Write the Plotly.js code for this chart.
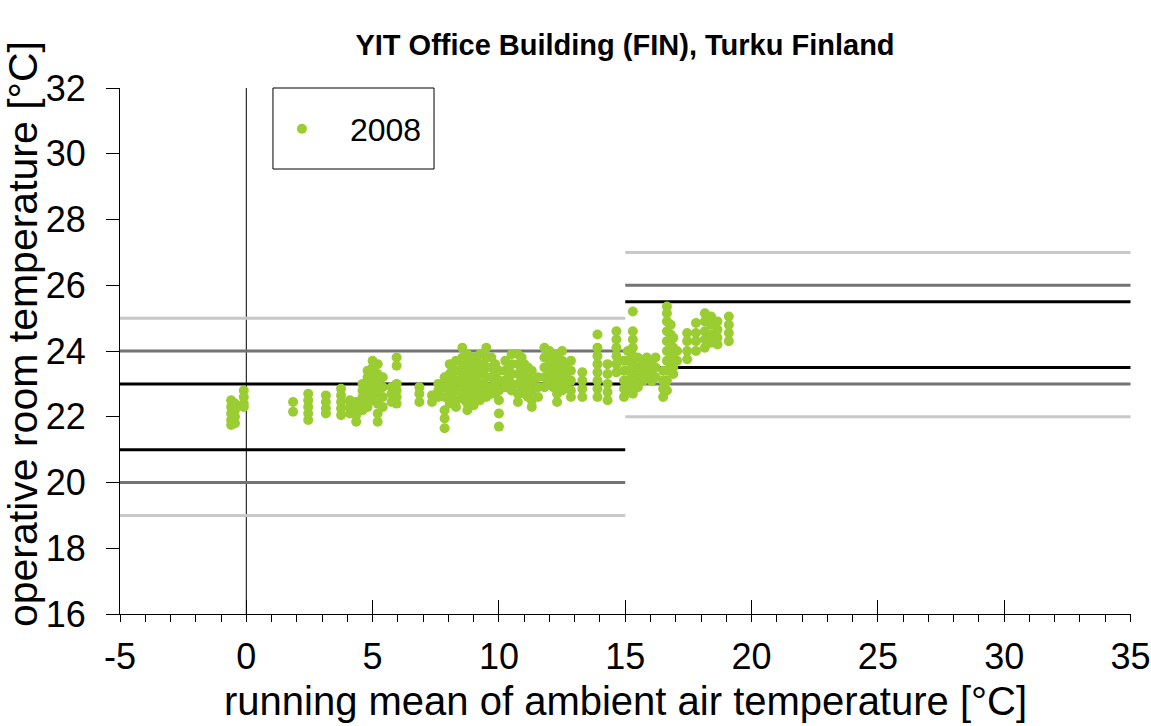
<!DOCTYPE html>
<html><head><meta charset="utf-8">
<script src="https://cdn.plot.ly/plotly-3.0.1.min.js"></script>
<style>html,body{margin:0;padding:0;background:#fff}</style>
</head><body><div id="chart" style="width:1151px;height:726px"></div>
<script>
const chartTitle = 'YIT Office Building (FIN), Turku Finland';
const xTitle = 'running mean of ambient air temperature [°C]';
const yTitle = 'operative room temperature [°C]';
const seriesName = '2008';

const xTickVals = [-5, 0, 5, 10, 15, 20, 25, 30, 35];
const xTickText = ['-5', '0', '5', '10', '15', '20', '25', '30', '35'];
const yTickVals = [16, 18, 20, 22, 24, 26, 28, 30, 32];

// running mean ambient temperature (x) for each vertical group of daily points
const clusterX = [-0.6, -0.45, -0.1, 1.85, 2.45, 3.15, 3.75, 4.1, 4.35, 4.6, 4.8, 5.0, 5.2, 5.4, 5.75, 5.95,
  6.85, 7.35, 7.6, 7.85, 8.05, 8.15, 8.3, 8.55, 8.65, 8.75, 9.0, 9.1, 9.25, 9.4, 9.5, 9.7, 9.85, 10.0, 10.25,
  10.4, 10.5, 10.75, 10.9, 11.0, 11.15, 11.3, 11.55, 11.8, 12.0, 12.15, 12.3, 12.5, 12.65, 12.85, 13.3, 13.9,
  14.3, 14.65, 14.95, 15.1, 15.3, 15.5, 15.7, 15.85, 16.05, 16.2, 16.5, 16.65, 16.8, 16.9, 17.05,
  17.45, 17.8, 18.15, 18.4, 18.65, 19.1];
// operative room temperatures observed in each group
const clusterY = [
  [22.5, 22.3, 22.1, 21.9, 21.75],
  [22.4, 22.2, 22.0, 21.8],
  [22.8, 22.6, 22.4, 22.3],
  [22.45, 22.15],
  [22.7, 22.5, 22.3, 22.1, 21.9],
  [22.65, 22.45, 22.25, 22.1],
  [22.85, 22.65, 22.45, 22.25, 22.05],
  [22.5, 22.3, 22.1],
  [22.45, 22.25, 22.05, 21.85],
  [23.0, 22.8, 22.6, 22.4, 22.2],
  [23.4, 23.2, 23.0, 22.8, 22.6, 22.3],
  [23.7, 23.5, 23.3, 23.1, 22.9, 22.7, 22.5],
  [23.6, 23.3, 23.0, 22.7, 22.4, 22.1, 21.85],
  [23.2, 22.9, 22.6, 22.3],
  [22.9, 22.7, 22.45],
  [23.8, 23.55, 23.0, 22.8, 22.6, 22.4],
  [22.9, 22.7, 22.45],
  [22.65, 22.45],
  [23.0, 22.8, 22.6],
  [23.2, 22.9, 22.6, 22.2, 21.95, 21.65],
  [23.6, 23.3, 23.0, 22.7, 22.4],
  [23.5, 23.2, 22.9, 22.6],
  [23.7, 23.4, 23.1, 22.8, 22.5, 22.3],
  [24.1, 23.8, 23.5, 23.2, 22.9, 22.6],
  [23.7, 23.4, 23.1, 22.8, 22.5],
  [23.9, 23.6, 23.3, 23.0, 22.7, 22.4, 22.2],
  [23.8, 23.5, 23.2, 22.9, 22.6, 22.35],
  [23.7, 23.4, 23.1, 22.8],
  [23.9, 23.6, 23.3, 23.0, 22.7, 22.5],
  [23.6, 23.3, 23.0, 22.7],
  [24.1, 23.8, 23.5, 23.2, 22.9, 22.6],
  [23.8, 23.5, 23.2, 22.9, 22.7],
  [23.6, 23.3, 23.0, 22.7],
  [23.4, 23.1, 22.8, 22.5, 22.1, 21.7],
  [23.7, 23.4, 23.1, 22.9],
  [23.5, 23.2, 22.9],
  [23.9, 23.6, 23.3, 23.0, 22.8],
  [23.9, 23.6, 23.3, 23.0, 22.7, 22.45],
  [23.8, 23.5, 23.2, 22.9],
  [23.6, 23.3, 23.0, 22.7],
  [23.5, 23.2, 22.9, 22.6],
  [23.4, 23.1, 22.8, 22.5, 22.3],
  [23.2, 22.9, 22.6],
  [24.1, 23.8, 23.5, 23.2, 22.9],
  [24.0, 23.7, 23.4, 23.1],
  [23.8, 23.5, 23.2, 22.9],
  [23.9, 23.6, 23.3, 23.0, 22.7, 22.45],
  [24.0, 23.7, 23.4, 23.1, 22.8],
  [23.6, 23.3, 23.0],
  [23.7, 23.4, 23.1, 22.8, 22.6],
  [23.35, 23.1, 22.85, 22.6],
  [24.5, 24.1, 23.85, 23.6, 23.35, 23.1, 22.85, 22.6],
  [23.6, 23.3, 23.0, 22.75, 22.5],
  [24.6, 24.35, 24.1, 23.85, 23.6, 23.35],
  [23.7, 23.4, 23.1, 22.85, 22.6],
  [24.0, 23.7, 23.4, 23.1, 22.8],
  [25.2, 24.6, 24.35, 24.1, 23.85, 23.6, 23.3, 23.0, 22.7],
  [23.8, 23.5, 23.2, 22.9],
  [23.7, 23.4, 23.1],
  [23.8, 23.5, 23.2],
  [23.7, 23.4, 23.1],
  [23.8, 23.5, 23.2],
  [23.4, 23.1, 22.85, 22.6],
  [25.35, 25.15, 24.9, 24.6, 24.3, 24.0, 23.7, 23.4, 23.1, 22.8],
  [24.8, 24.5, 24.2, 23.9, 23.6],
  [24.4, 24.1, 23.8, 23.5, 23.3],
  [24.0, 23.7],
  [24.55, 24.3, 24.0, 23.75],
  [24.85, 24.55, 24.3, 24.0],
  [25.15, 24.9, 24.6, 24.35, 24.1],
  [25.05, 24.8, 24.5, 24.25],
  [24.9, 24.65, 24.4, 24.2],
  [25.05, 24.8, 24.55, 24.3]
];

// comfort band limits: [winter part, summer part]
const bandXStart = [-5, 15];
const bandXEnd = [15, 35];
const catIUpper = [23, 25.5];
const catILower = [21, 23.5];
const catIIUpper = [24, 26];
const catIILower = [20, 23];
const catIIIUpper = [25, 27];
const catIIILower = [19, 22];

const xs = [], ys = [];
clusterX.forEach((x, i) => clusterY[i].forEach(y => { xs.push(x); ys.push(y); }));

const shapes = [];
function addBand(upper, lower, color) {
  for (let i = 0; i < bandXStart.length; i++) {
    [upper[i], lower[i]].forEach(v => shapes.push({
      type: 'line', xref: 'x', yref: 'y', x0: bandXStart[i], x1: bandXEnd[i], y0: v, y1: v,
      line: {color: color, width: 3}, layer: 'below'
    }));
  }
}
addBand(catIIIUpper, catIIILower, '#c8c8c8');
addBand(catIIUpper, catIILower, '#737373');
addBand(catIUpper, catILower, '#000000');
// vertical line at 0 °C
shapes.push({type: 'line', xref: 'x', yref: 'paper', x0: 0, x1: 0, y0: 0, y1: 1,
  line: {color: '#000', width: 1}, layer: 'below'});
// legend box
shapes.push({type: 'rect', xref: 'paper', yref: 'paper', x0: 0.1513, x1: 0.3106, y0: 0.846, y1: 1,
  line: {color: '#000', width: 1}, fillcolor: 'rgba(0,0,0,0)', layer: 'above'});

const font = 'Arial, "Liberation Sans", sans-serif';
const xRange = [-5, 35.02];

const data = [
  {type: 'scatter', mode: 'markers', name: seriesName, x: xs, y: ys,
   marker: {color: '#9acd32', size: 10}},
  {type: 'scatter', mode: 'markers', x: [], y: [], xaxis: 'x2', yaxis: 'y', showlegend: false, hoverinfo: 'skip'}
];

const layout = {
  width: 1151, height: 726,
  margin: {l: 120, r: 20, t: 88, b: 112},
  paper_bgcolor: '#fff', plot_bgcolor: '#fff',
  font: {family: font, color: '#000'},
  title: {text: '<b>' + chartTitle + '</b>', font: {size: 29, family: font, color: '#000'},
          x: 0.543, xanchor: 'center', y: 0.938, yanchor: 'middle'},
  showlegend: true,
  legend: {x: 0.1325, y: 0.922, xanchor: 'left', yanchor: 'middle', bgcolor: 'rgba(0,0,0,0)',
           borderwidth: 0, font: {size: 32, family: font, color: '#000'}, itemwidth: 86},
  xaxis: {
    range: xRange, tickmode: 'array', tickvals: xTickVals, ticktext: xTickText,
    ticks: 'outside', ticklen: 7, tickwidth: 1, tickcolor: '#000', ticklabeloverflow: 'allow',
    showline: true, linecolor: '#000', linewidth: 1, showgrid: false, zeroline: false,
    minor: {ticks: 'outside', dtick: 1, tick0: -5, ticklen: 7, tickwidth: 1, tickcolor: '#000', showgrid: false},
    tickfont: {size: 36, family: font, color: '#000'}, ticklabelstandoff: 4,
    title: {text: xTitle, font: {size: 40, family: font, color: '#000'}, standoff: 10},
    automargin: false, fixedrange: true
  },
  xaxis2: {
    overlaying: 'x', anchor: 'y', side: 'bottom', range: xRange, tickmode: 'array', tickvals: xTickVals,
    ticks: 'inside', ticklen: 14, tickwidth: 1, tickcolor: '#000', showticklabels: false,
    showline: false, showgrid: false, zeroline: false, automargin: false
  },
  yaxis: {
    range: [16, 32], tickmode: 'array', tickvals: yTickVals, ticks: 'outside', ticklen: 13, tickwidth: 1, tickcolor: '#000',
    showline: true, linecolor: '#000', linewidth: 1, showgrid: false, zeroline: false,
    tickfont: {size: 36, family: font, color: '#000'}, ticklabelstandoff: 13,
    automargin: false, fixedrange: true
  },
  annotations: [{
    text: yTitle, textangle: -90, xref: 'paper', yref: 'paper', x: -0.096, y: 0.532,
    xanchor: 'center', yanchor: 'middle', showarrow: false,
    font: {size: 41, family: font, color: '#000'}
  }],
  shapes: shapes
};

Plotly.newPlot('chart', data, layout, {displayModeBar: false, staticPlot: true});
</script></body></html>
